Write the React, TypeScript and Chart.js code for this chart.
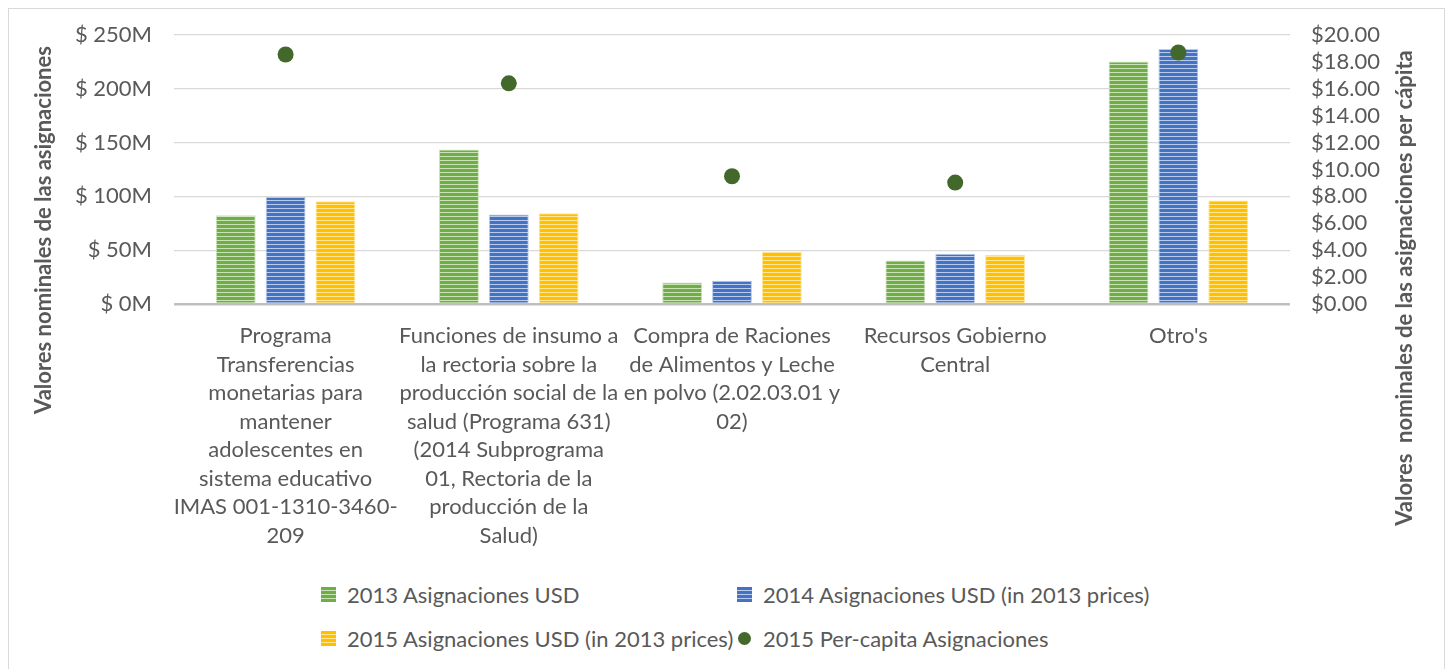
import React, { useEffect, useRef } from 'react';
import { Chart, registerables } from 'chart.js';

Chart.register(...registerables);

const categories: string[][] = [
  ['Programa', 'Transferencias', 'monetarias para', 'mantener', 'adolescentes en', 'sistema educativo', 'IMAS 001-1310-3460-', '209'],
  ['Funciones de insumo a', 'la rectoria sobre la', 'producción social de la', 'salud (Programa 631)', '(2014 Subprograma', '01, Rectoria de la', 'producción de la', 'Salud)'],
  ['Compra de Raciones', 'de Alimentos y Leche', 'en polvo (2.02.03.01 y', '02)'],
  ['Recursos Gobierno', 'Central'],
  ["Otro's"],
];

// Values in millions of USD
const asig2013 = [82.5, 143.7, 20.0, 40.5, 225.4];
const asig2014 = [99.5, 83.1, 21.6, 46.8, 236.9];
const asig2015 = [95.5, 84.3, 48.3, 45.8, 96.2];
// Per-capita USD
const perCapita2015 = [18.55, 16.41, 9.5, 9.03, 18.7];

const seriesNames = [
  '2013 Asignaciones USD',
  '2014 Asignaciones USD (in 2013 prices)',
  '2015 Asignaciones USD (in 2013 prices)',
  '2015 Per-capita Asignaciones',
];

const leftTitle = 'Valores nominales de las asignaciones';
const rightTitle = 'Valores  nominales de las asignaciones per cápita';

const GREEN = '#70AD47';
const GREEN_L = '#C9E2B8';
const BLUE = '#4472C4';
const BLUE_L = '#B9CBEB';
const YELLOW = '#FFC000';
const YELLOW_L = '#FFE699';
const DOT = '#43682B';
const TEXT = '#595959';
const FONT = 'Lato';

function stripes(color: string, light: string) {
  const c = document.createElement('canvas');
  c.width = 4;
  c.height = 4;
  const g = c.getContext('2d')!;
  g.fillStyle = color;
  g.fillRect(0, 0, 4, 4);
  g.fillStyle = light;
  g.fillRect(0, 3, 4, 1.3);
  return g.createPattern(c, 'repeat')!;
}

const axisTitles = {
  id: 'axisTitles',
  afterDraw(chart: any) {
    const { ctx } = chart;
    ctx.save();
    ctx.font = `bold 22px ${FONT}`;
    ctx.fillStyle = TEXT;
    ctx.textAlign = 'center';
    ctx.textBaseline = 'middle';
    ctx.translate(35, 221);
    ctx.rotate(-Math.PI / 2);
    ctx.fillText(leftTitle, 0, 0);
    ctx.restore();
    ctx.save();
    ctx.font = `bold 22px ${FONT}`;
    ctx.fillStyle = TEXT;
    ctx.textAlign = 'center';
    ctx.textBaseline = 'middle';
    ctx.translate(1396, 279);
    ctx.rotate(-Math.PI / 2);
    ctx.fillText(rightTitle, 0, 0);
    ctx.restore();
  },
};

function LegendItem({ kind, color, light, label }: { kind: 'box' | 'dot'; color: string; light?: string; label: string }) {
  return (
    <div style={{ display: 'flex', alignItems: 'center' }}>
      <div style={{ width: 15, height: 15, display: 'flex', alignItems: 'center', justifyContent: 'center' }}>
        {kind === 'box' ? (
          <div
            style={{
              width: 15,
              height: 15,
              background: `repeating-linear-gradient(to bottom, ${color} 0px, ${color} 3px, ${light} 3px, ${light} 4px)`,
            }}
          />
        ) : (
          <div style={{ width: 13, height: 13, borderRadius: '50%', background: color }} />
        )}
      </div>
      <span style={{ marginLeft: 11, whiteSpace: 'nowrap' }}>{label}</span>
    </div>
  );
}

export default function App() {
  const ref = useRef<HTMLCanvasElement>(null);

  useEffect(() => {
    let chart: Chart | null = null;
    let cancelled = false;
    const build = () => {
      if (cancelled || !ref.current) return;
      const tickFont = { family: FONT, size: 22 };
      chart = new Chart(ref.current, {
        type: 'bar',
        data: {
          labels: categories as any,
          datasets: [
            {
              type: 'line' as any,
              label: seriesNames[3],
              data: perCapita2015,
              yAxisID: 'y1',
              showLine: false,
              pointRadius: 8,
              pointHoverRadius: 8,
              backgroundColor: DOT,
              borderColor: DOT,
              pointBorderWidth: 0,
              order: 0,
            } as any,
            {
              label: seriesNames[0],
              data: asig2013,
              yAxisID: 'y',
              backgroundColor: stripes(GREEN, GREEN_L),
              borderColor: GREEN_L,
              borderWidth: 1,
              categoryPercentage: 0.67,
              barPercentage: 0.8,
              order: 1,
            },
            {
              label: seriesNames[1],
              data: asig2014,
              yAxisID: 'y',
              backgroundColor: stripes(BLUE, BLUE_L),
              borderColor: BLUE_L,
              borderWidth: 1,
              categoryPercentage: 0.67,
              barPercentage: 0.8,
              order: 1,
            },
            {
              label: seriesNames[2],
              data: asig2015,
              yAxisID: 'y',
              backgroundColor: stripes(YELLOW, YELLOW_L),
              borderColor: YELLOW_L,
              borderWidth: 1,
              categoryPercentage: 0.67,
              barPercentage: 0.8,
              order: 1,
            },
          ],
        },
        options: {
          responsive: false,
          animation: false,
          layout: { padding: { top: 26, left: 0, right: 24, bottom: 0 } },
          plugins: {
            legend: { display: false },
            tooltip: { enabled: false },
          },
          scales: {
            x: {
              grid: { display: false, drawTicks: false },
              border: { display: false },
              ticks: {
                autoSkip: false,
                maxRotation: 0,
                minRotation: 0,
                padding: 18,
                color: TEXT,
                font: { ...tickFont, lineHeight: '28.5px' },
              },
              afterFit(s: any) {
                s.height = 265;
              },
            },
            y: {
              position: 'left',
              min: 0,
              max: 250,
              ticks: {
                stepSize: 50,
                autoSkip: false,
                padding: 22,
                color: TEXT,
                font: tickFont,
                callback: (v: any) => '$ ' + v + 'M',
              },
              grid: {
                drawTicks: false,
                color: (c: any) => (c.tick && c.tick.value === 0 ? '#BFBFBF' : '#D9D9D9'),
                lineWidth: (c: any) => (c.tick && c.tick.value === 0 ? 2.5 : 1.3),
              },
              border: { display: false },
              afterFit(s: any) {
                s.width = 165;
                s.paddingTop = 0;
                s.paddingBottom = 0;
              },
            },
            y1: {
              position: 'right',
              min: 0,
              max: 20,
              ticks: {
                stepSize: 2,
                autoSkip: false,
                padding: 21,
                color: TEXT,
                font: tickFont,
                callback: (v: any) => '$' + Number(v).toFixed(2),
              },
              grid: { display: false, drawTicks: false },
              border: { display: false },
              afterFit(s: any) {
                s.width = 130;
                s.paddingTop = 0;
                s.paddingBottom = 0;
              },
            },
          },
        } as any,
        plugins: [axisTitles],
      });
    };
    const fonts: any = (document as any).fonts;
    if (fonts && fonts.load) {
      Promise.all([fonts.load(`22px ${FONT}`), fonts.load(`bold 22px ${FONT}`)])
        .catch(() => {})
        .then(build);
    } else {
      build();
    }
    return () => {
      cancelled = true;
      if (chart) chart.destroy();
    };
  }, []);

  return (
    <div
      style={{
        border: '1px solid #D9D9D9',
        width: 1435,
        height: 663,
        fontFamily: FONT,
        fontSize: 22,
        color: TEXT,
      }}
    >
      <canvas ref={ref} width={1435} height={560} style={{ display: 'block', width: 1435, height: 560 }} />
      <div
        style={{
          marginTop: 3,
          paddingLeft: 312,
          display: 'grid',
          gridTemplateColumns: '416px auto',
          gridAutoRows: '44px',
          alignItems: 'center',
        }}
      >
        <LegendItem kind="box" color={GREEN} light={GREEN_L} label={seriesNames[0]} />
        <LegendItem kind="box" color={BLUE} light={BLUE_L} label={seriesNames[1]} />
        <LegendItem kind="box" color={YELLOW} light={YELLOW_L} label={seriesNames[2]} />
        <LegendItem kind="dot" color={DOT} label={seriesNames[3]} />
      </div>
    </div>
  );
}
